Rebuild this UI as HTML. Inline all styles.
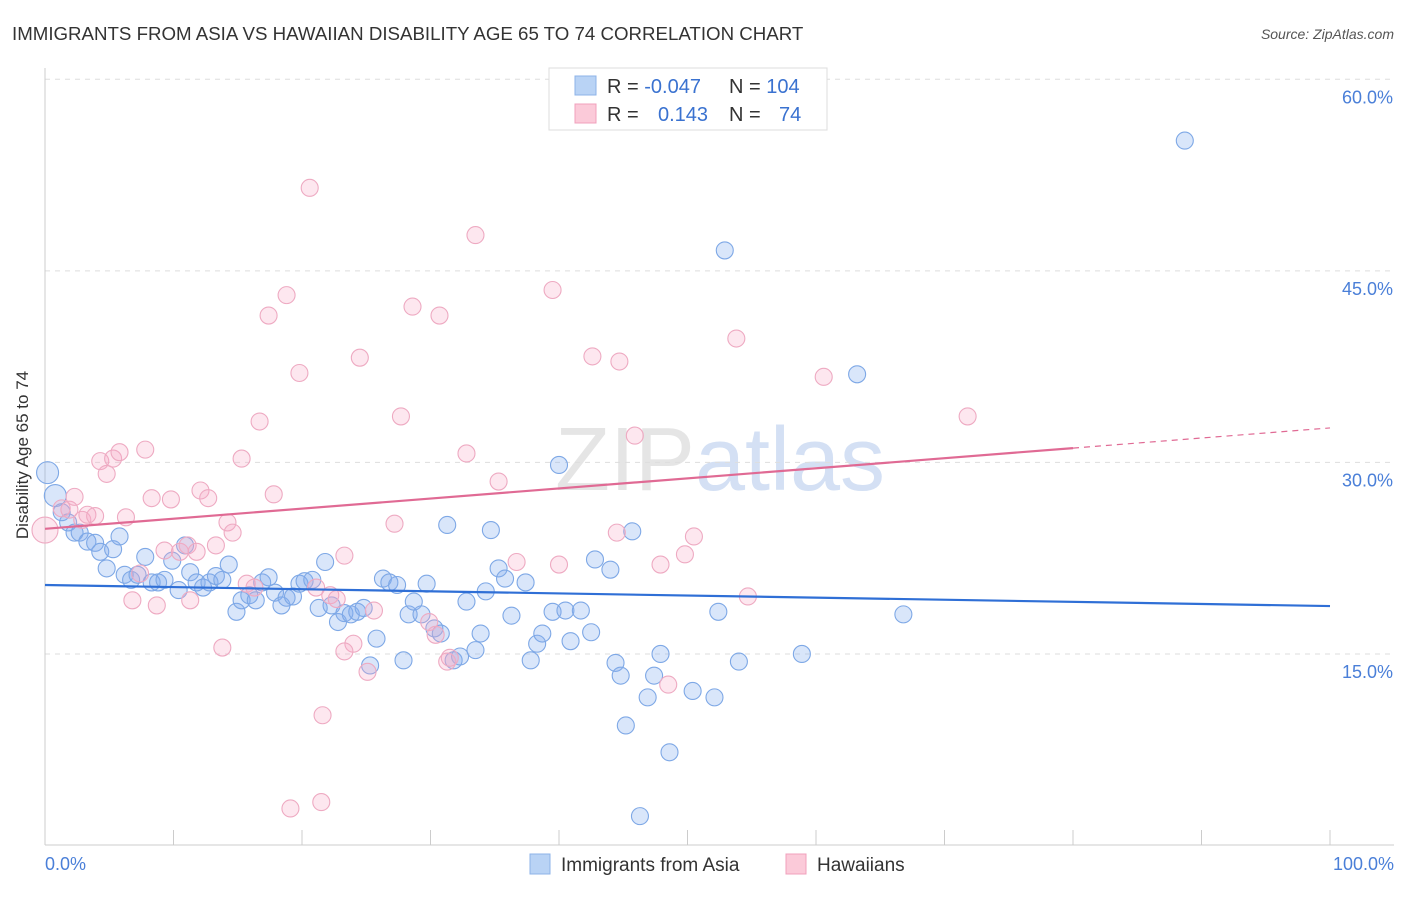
<!DOCTYPE html>
<html><head><meta charset="utf-8"><style>
body{margin:0;background:#fff;font-family:"Liberation Sans",sans-serif;}
svg text{font-family:"Liberation Sans",sans-serif;}
</style></head><body>
<svg id="chart" width="1406" height="892">
<text x="12" y="40" font-size="18.7" fill="#333">IMMIGRANTS FROM ASIA VS HAWAIIAN DISABILITY AGE 65 TO 74 CORRELATION CHART</text>
<text x="1394" y="39" font-size="14" fill="#555" font-style="italic" text-anchor="end">Source: ZipAtlas.com</text>
<text x="720" y="490" font-size="90" fill="#d5d5d5" text-anchor="middle" opacity="0.6" font-family="Liberation Serif">ZIP<tspan fill="#b8cdee" font-family="Liberation Sans">atlas</tspan></text>
<text x="28" y="455" font-size="17" fill="#333" transform="rotate(-90 28 455)" text-anchor="middle">Disability Age 65 to 74</text>
<g id="grid"></g><g id="axes"></g><g id="marks"></g><g id="trends"></g>
<g>
<rect x="549" y="68" width="278" height="62" fill="#fff" stroke="#ddd"/>
<rect x="575" y="76" width="21" height="19" fill="#b9d3f5" stroke="#8db3e8"/>
<rect x="575" y="104" width="21" height="19" fill="#fbcad9" stroke="#f0a0bc"/>
<text x="607" y="93" font-size="20" fill="#333">R = <tspan fill="#3a72d0">-0.047</tspan></text>
<text x="729" y="93" font-size="20" fill="#333">N = <tspan fill="#3a72d0">104</tspan></text>
<text x="607" y="121" font-size="20" fill="#333">R = </text><text x="658" y="121" font-size="20" fill="#3a72d0">0.143</text>
<text x="729" y="121" font-size="20" fill="#333">N = </text><text x="779" y="121" font-size="20" fill="#3a72d0">74</text>
</g>
<g>
<rect x="530" y="854" width="20" height="20" fill="#b9d3f5" stroke="#8db3e8"/>
<text x="561" y="871" font-size="19" fill="#333">Immigrants from Asia</text>
<rect x="786" y="854" width="20" height="20" fill="#fbcad9" stroke="#f0a0bc"/>
<text x="817" y="871" font-size="19" fill="#333">Hawaiians</text>
</g>
</svg>
<script>
const blueX=[0.2,0.8,1.3,1.8,2.3,2.7,3.3,3.9,4.3,4.8,5.3,5.8,6.2,6.7,7.2,7.8,8.3,8.8,9.3,9.9,10.4,10.9,11.3,11.8,12.3,12.8,13.3,13.8,14.3,14.9,15.3,15.9,16.4,16.9,17.4,17.9,18.4,18.8,19.3,19.8,20.2,20.8,21.3,21.8,22.3,22.8,23.3,23.8,24.3,24.8,25.3,25.8,26.3,26.8,27.4,27.9,28.3,28.7,29.3,29.7,30.3,30.8,31.3,31.8,32.3,32.8,33.5,33.9,34.3,34.7,35.3,35.8,36.3,37.4,37.8,38.3,38.7,39.5,40.0,40.5,40.9,41.7,42.5,42.8,44.0,44.4,44.8,45.2,45.7,46.3,46.9,47.4,47.9,48.6,50.4,52.1,52.4,52.9,54.0,58.9,63.2,66.8,88.7];
const blueY=[29.2,27.4,26.1,25.3,24.5,24.5,23.8,23.7,23.0,21.7,23.2,24.2,21.2,20.8,21.2,22.6,20.6,20.6,20.8,22.3,20.0,23.5,21.4,20.6,20.2,20.6,21.1,20.8,22.0,18.3,19.2,19.6,19.2,20.6,21.0,19.8,18.8,19.4,19.5,20.5,20.7,20.8,18.6,22.2,18.8,17.5,18.2,18.1,18.3,18.6,14.1,16.2,20.9,20.6,20.4,14.5,18.1,19.1,18.1,20.5,17.0,16.6,25.1,14.5,14.8,19.1,15.3,16.6,19.9,24.7,21.7,20.9,18.0,20.6,14.5,15.8,16.6,18.3,29.8,18.4,16.0,18.4,16.7,22.4,21.6,14.3,13.3,9.4,24.6,2.3,11.6,13.3,15.0,7.3,12.1,11.6,18.3,46.6,14.4,15.0,36.9,18.1,55.2];
const pinkX=[0.0,1.3,1.9,2.3,2.9,3.3,3.9,4.3,4.8,5.3,5.8,6.3,6.8,7.4,7.8,8.3,8.7,9.3,9.8,10.5,11.1,11.3,11.8,12.1,12.7,13.3,13.8,14.2,14.6,15.3,15.7,16.3,16.7,17.4,17.8,18.8,19.8,20.6,21.1,21.6,22.2,22.7,23.3,24.0,24.5,25.1,25.6,27.2,27.7,28.6,29.9,30.4,30.7,31.3,31.5,32.8,33.5,35.3,36.7,39.5,40.0,42.6,44.5,44.7,45.9,47.9,48.5,49.8,50.5,53.8,54.7,60.6,71.8,19.1,21.5,23.3];
const pinkY=[24.7,26.4,26.3,27.3,25.5,25.9,25.8,30.1,29.1,30.3,30.8,25.7,19.2,21.3,31.0,27.2,18.8,23.1,27.1,23.0,23.5,19.2,23.0,27.8,27.2,23.5,15.5,25.3,24.5,30.3,20.5,20.2,33.2,41.5,27.5,43.1,37.0,51.5,20.2,10.2,19.6,19.3,22.7,15.8,38.2,13.6,18.4,25.2,33.6,42.2,17.5,16.5,41.5,14.4,14.7,30.7,47.8,28.5,22.2,43.5,22.0,38.3,24.5,37.9,32.1,22.0,12.6,22.8,24.2,39.7,19.5,36.7,33.6,2.9,3.4,15.2];
const yTicks=[15,30,45,60];
const yTickLabels=["15.0%","30.0%","45.0%","60.0%"];
const blueTrend=[20.4,18.75];
const pinkTrend=[24.8,32.7];
const pinkSolidEnd=80;

const NS="http://www.w3.org/2000/svg";
const X=v=>45+v*12.85, Y=v=>845.5-v*12.77;
function mk(t,a,p){const e=document.createElementNS(NS,t);for(const k in a)e.setAttribute(k,a[k]);p.appendChild(e);return e;}
const grid=document.getElementById('grid'),axes=document.getElementById('axes'),marks=document.getElementById('marks'),trends=document.getElementById('trends');
yTicks.forEach((t,i)=>{
  const l=mk('line',{x1:45,x2:1394,y1:Y(t),y2:Y(t),stroke:'#ddd','stroke-dasharray':'5,5'},grid);
  
  
  const tx=mk('text',{x:1393,y:Y(t)+24,'font-size':18,fill:'#4a7fd8','text-anchor':'end'},axes);
  tx.textContent=yTickLabels[i];
  
  
});
const ax=mk('line',{x1:45,x2:45,y1:68,y2:845,stroke:'#ccc'},axes);


const bx=mk('line',{x1:45,x2:1394,y1:845,y2:845,stroke:'#ccc'},axes);


for(let i=0;i<=10;i++){
  const t=mk('line',{x1:X(i*10),x2:X(i*10),y1:830,y2:845,stroke:'#ccc'},axes);
  
  
}
const xl0=mk('text',{x:45,y:870,'font-size':18,fill:'#4a7fd8'},axes);xl0.textContent='0.0%';


const xl1=mk('text',{x:1394,y:870,'font-size':18,fill:'#4a7fd8','text-anchor':'end'},axes);xl1.textContent='100.0%';


blueX.forEach((v,i)=>{
  const c=mk('circle',{cx:X(v),cy:Y(blueY[i]),r:i<2?11:8.5,fill:'rgba(130,172,238,0.3)',stroke:'#7ea8e6','stroke-width':1.1},marks);
  
  
});
pinkX.forEach((v,i)=>{
  const c=mk('circle',{cx:X(v),cy:Y(pinkY[i]),r:i==0?13:8.5,fill:'rgba(247,170,198,0.28)',stroke:'#eeaac2','stroke-width':1.1},marks);
  
  
});
const bl=mk('line',{x1:X(0),y1:Y(blueTrend[0]),x2:X(100),y2:Y(blueTrend[1]),stroke:'#2f6fd6','stroke-width':2.2},trends);


const pAt=x=>pinkTrend[0]+(pinkTrend[1]-pinkTrend[0])*x/100;
const pl=mk('line',{x1:X(0),y1:Y(pAt(0)),x2:X(pinkSolidEnd),y2:Y(pAt(pinkSolidEnd)),stroke:'#e06a94','stroke-width':2.2},trends);


const pd=mk('line',{x1:X(pinkSolidEnd),y1:Y(pAt(pinkSolidEnd)),x2:X(100),y2:Y(pAt(100)),stroke:'#e06a94','stroke-width':1.2,'stroke-dasharray':'6,5'},trends);


</script>
</body></html>
